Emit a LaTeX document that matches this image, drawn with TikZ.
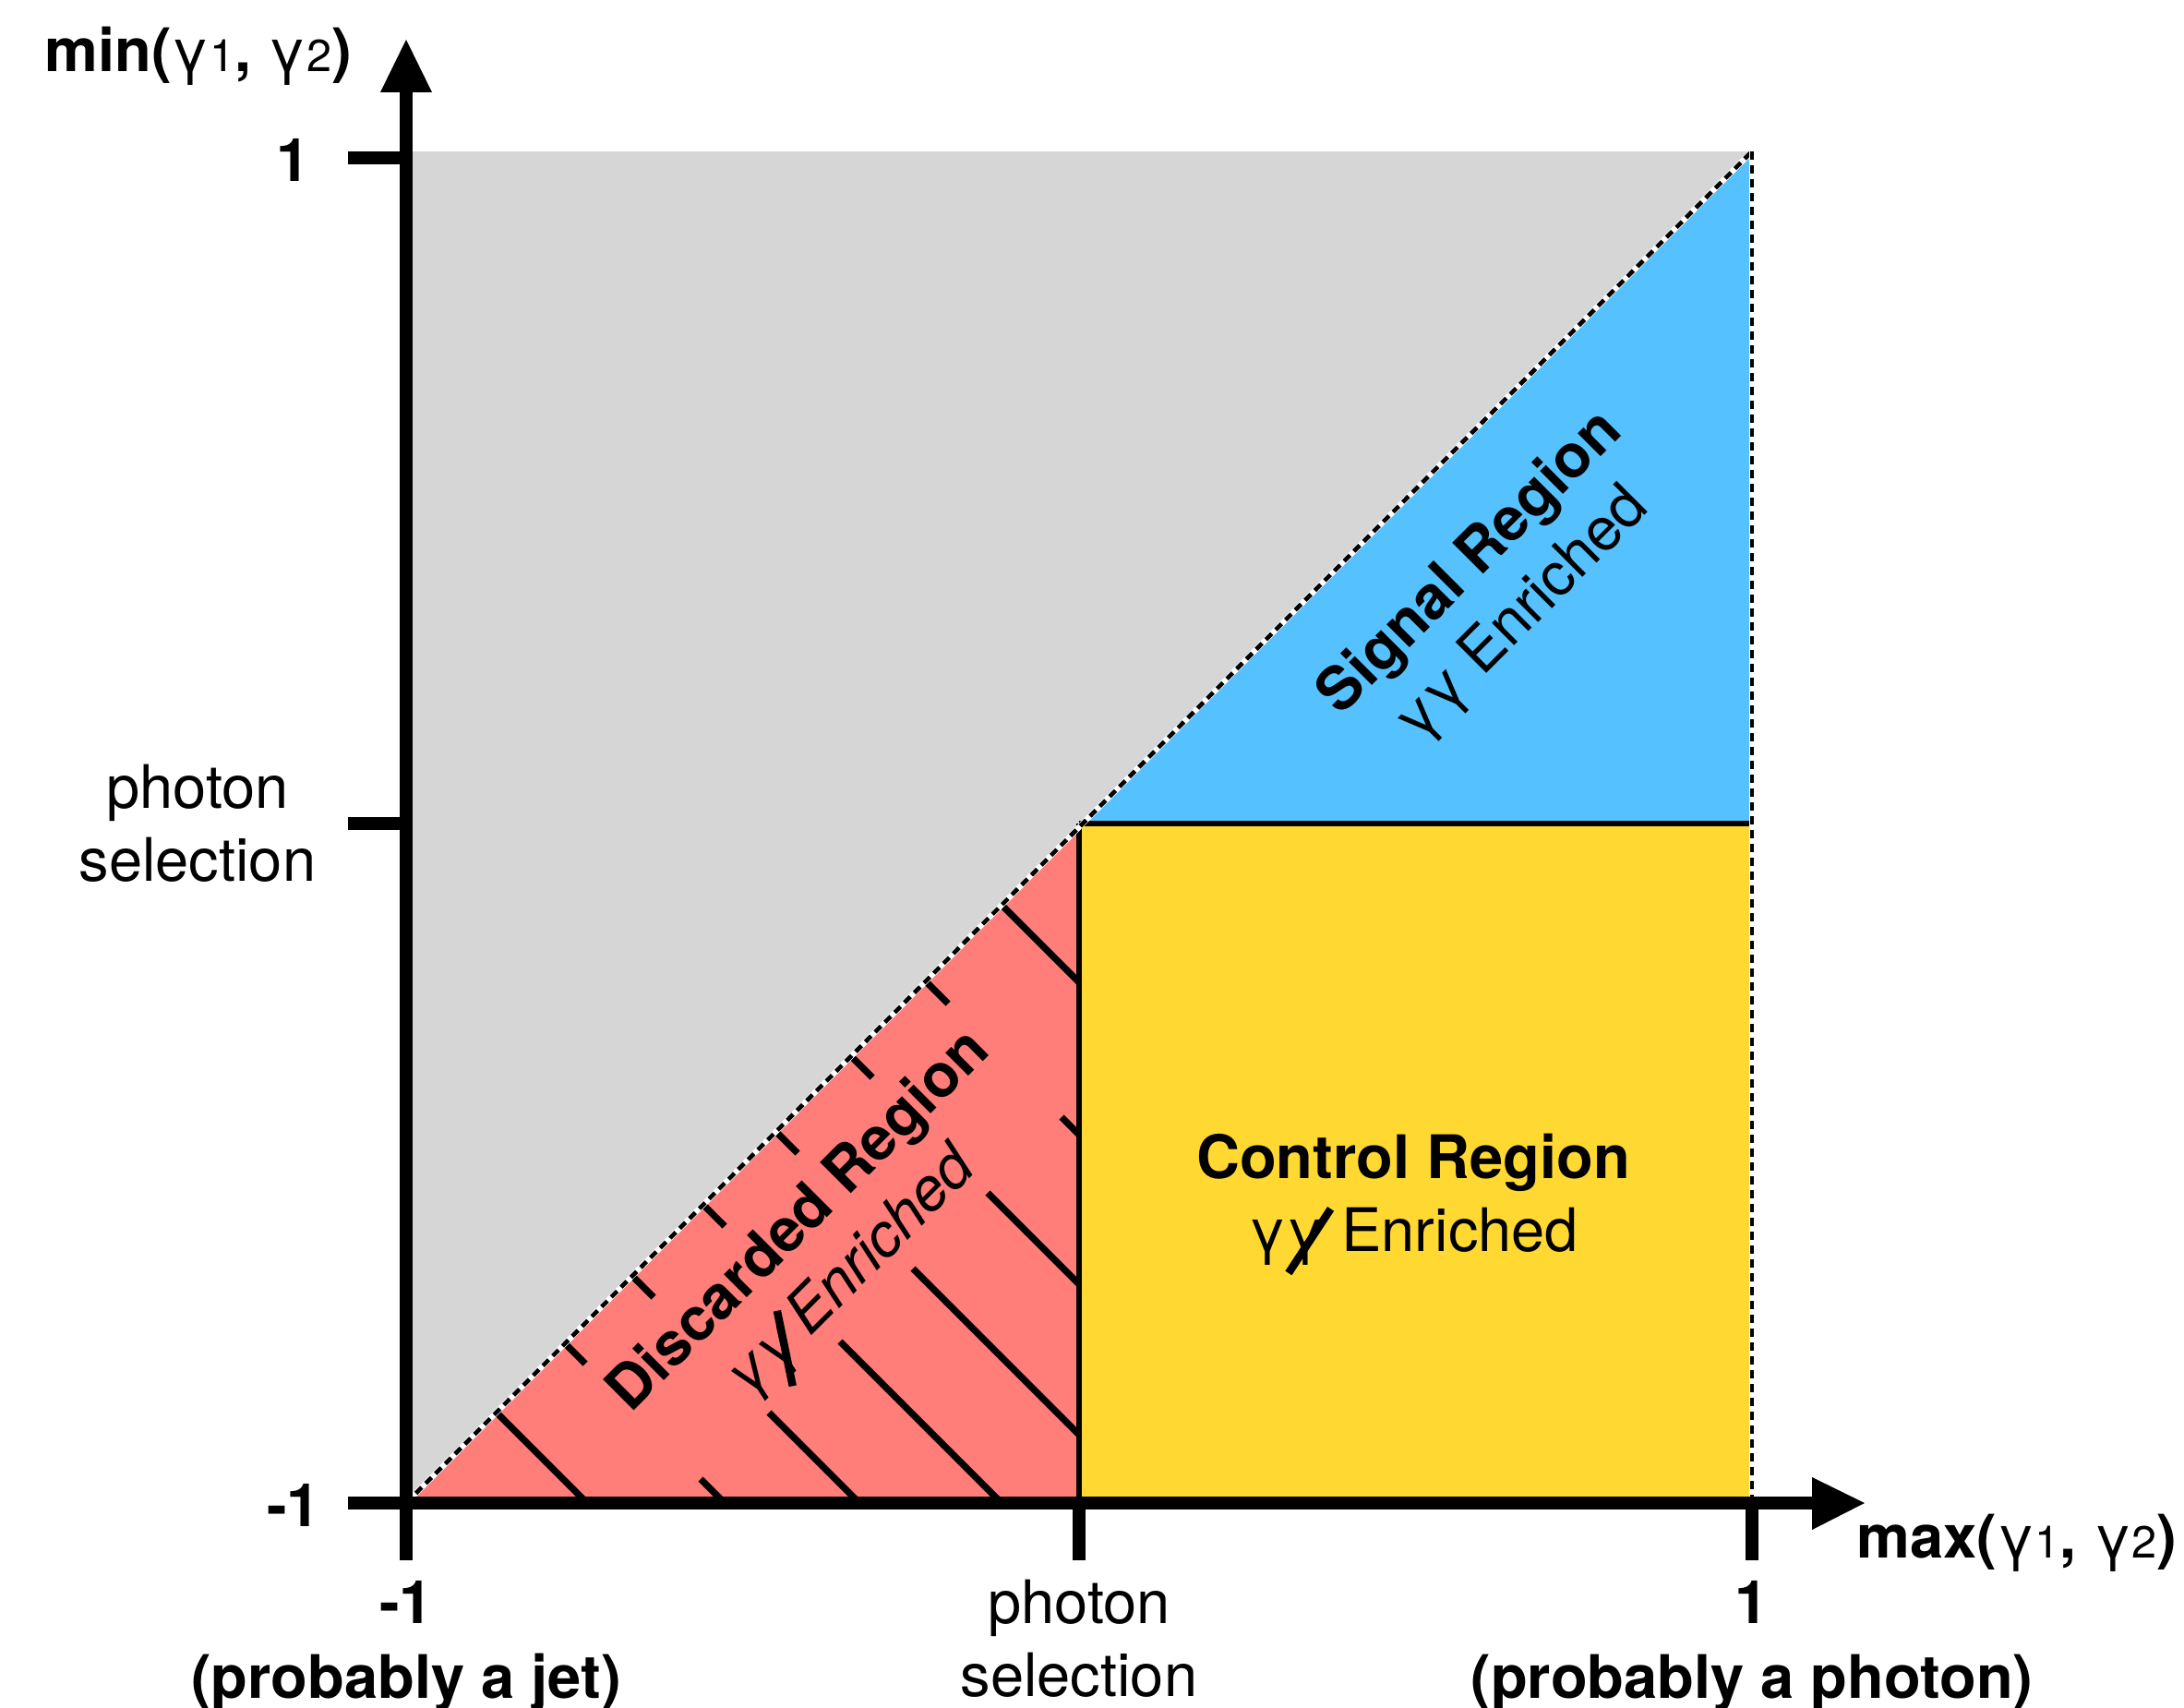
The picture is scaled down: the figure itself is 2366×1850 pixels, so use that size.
\documentclass[tikz,border=0pt]{standalone}
\usepackage{fontspec}
\setmainfont{TeX Gyre Heros}
\definecolor{cgray}{HTML}{D6D6D6}
\definecolor{cblue}{HTML}{56C1FF}
\definecolor{cyellow}{HTML}{FFD932}
\definecolor{cred}{HTML}{FF7E79}
\newcommand{\gam}{γ}
\newcommand{\notgam}{\gam\kern0.15em\llap{\smash{\raisebox{-0.4em}{\rotatebox{56.7}{\rule{1.28em}{0.13em}}}}}\kern-0.15em}
\newcommand{\gsub}[1]{{\fontsize{14.6}{17}\selectfont #1}}
\begin{document}
\begin{tikzpicture}[x=0.3pt,y=-0.3pt,
  txt/.style={font=\fontsize{19.5}{23.7}\selectfont, inner sep=0pt, outer sep=0pt, align=center},
  btxt/.style={txt, font=\fontsize{19.5}{23.7}\selectfont\bfseries},
  axisline/.style={line width=4.2pt, line cap=butt},
  hatchline/.style={line width=2.2pt},
  edgeline/.style={line width=1.8pt},
  dashblack/.style={line width=1.4pt, dash pattern=on 2.7pt off 1.8pt},
  dashwhite/.style={line width=1.8pt, white}]
\useasboundingbox (0,0) rectangle (2366,1850);
% regions
\fill[cgray] (440,164) rectangle (1898,1628);
\fill[cred] (440,1628) -- (1169,1628) -- (1169,895.5) -- cycle;
\fill[cyellow] (1169,892) rectangle (1898,1628);
\fill[cblue] (1172.5,892) -- (1898,892) -- (1898,164) -- cycle;
% hatch
\begin{scope}
\clip (440,1628) -- (1169,1628) -- (1169,895.5) -- cycle;
\foreach \c/\a/\b in {-105/1080/1175, 60/997/1027, 60/1150/1175, 222/916/945, 222/1070/1175,
  385/835/864, 385/989/1175, 543/756/785, 543/910/1090, 697/679/708, 697/833/935,
  843/606/634, 843/759/790, 992/530/640}
  \draw[hatchline] ({\a},{\a+\c}) -- ({\b},{\b+\c});
\end{scope}
% region edges
\draw[edgeline] (1169,892) -- (1169,1628);
\draw[edgeline] (1169,892) -- (1898,892);
\draw[dashwhite] (440,1628) -- (1898,164);
\draw[dashblack] (440,1628) -- (1898,164);
\draw[dashwhite] (1898,164) -- (1898,1628);
\draw[dashblack] (1898,164) -- (1898,1628);
% axes
\draw[axisline] (440,1690) -- (440,99);
\fill (412,100) -- (468,100) -- (440,43) -- cycle;
\draw[axisline] (377,1628) -- (1964,1628);
\fill (1963,1600) -- (1963,1657) -- (2020,1628) -- cycle;
\draw[axisline] (377,171) -- (440,171);
\draw[axisline] (377,892) -- (440,892);
\draw[axisline] (1169,1628) -- (1169,1690);
\draw[axisline] (1898,1628) -- (1898,1690);
% labels
\node[txt, anchor=base] (ylab) at (215,78) {\bfseries min(\mdseries\gam\gsub{1}\bfseries, \mdseries\gam\gsub{2}\bfseries)};
\node[txt, anchor=base] (xlab) at (2185,1687) {\bfseries max(\mdseries\gam\gsub{1}\bfseries, \mdseries\gam\gsub{2}\bfseries)};
\node[btxt, anchor=base] (yone) at (318,197) {1};
\node[btxt, anchor=base] (ymone) at (318,1653) {-1};
\node[txt] (ysel) at (214,892) {photon\\selection};
\node[btxt, anchor=base] (xmone) at (440,1758) {-1};
\node[btxt, anchor=base] (jet) at (440,1839) {(probably a jet)};
\node[txt] (xsel) at (1169,1775) {photon\\selection};
\node[btxt, anchor=base] (xone) at (1898,1758) {1};
\node[btxt, anchor=base] (pho) at (1898,1839) {(probably a photon)};
\node[txt, rotate=45] (sig) at (1622,639) {{\bfseries Signal Region}\\\gam\gam{} Enriched};
\node[txt] (ctrl) at (1531,1299) {{\bfseries Control Region}\\\gam\notgam{} Enriched};
\node[txt, rotate=45] (disc) at (895,1352) {{\bfseries Discarded Region}\\{\itshape\gam\notgam\,Enriched}};
\end{tikzpicture}
\end{document}
